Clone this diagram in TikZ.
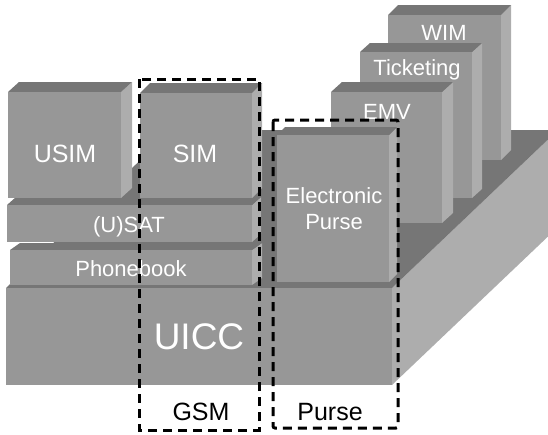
\documentclass[tikz,border=0pt]{standalone}
\usepackage{fontspec}
\setmainfont{Liberation Sans}
\definecolor{facefront}{HTML}{979797}
\definecolor{facetop}{HTML}{767676}
\definecolor{faceside}{HTML}{ADADAD}
% A box seen obliquely: front rectangle (x1,y1)-(x2,y2), receding by (dx,dy)
\newcommand{\drawslab}[6]{%
  \fill[faceside] (#3,#2) -- (#3+#5,#2-#6) -- (#3+#5,#4-#6) -- (#3,#4) -- cycle;
  \fill[facetop] (#1,#2) -- (#1+#5,#2-#6) -- (#3+#5,#2-#6) -- (#3,#2) -- cycle;
  \fill[facefront] (#1,#2) rectangle (#3,#4);
}
\tikzset{
  boxlabel/.style={anchor=base, text=white, inner sep=0pt, font=\fontsize{22}{26}\selectfont},
  biglabel/.style={boxlabel, font=\fontsize{25}{30}\selectfont},
  grouplabel/.style={anchor=base, text=black, inner sep=0pt, font=\fontsize{25}{30}\selectfont},
  groupframe/.style={draw=black, line width=3pt, dash pattern=on 9pt off 6pt}
}
\begin{document}
\begin{tikzpicture}[x=1pt, y=-1pt]
\useasboundingbox (0,0) rectangle (548,434);
\clip (0,0) rectangle (548,434);

% card platform
\drawslab{6}{288}{392}{385}{166}{158}
% applications standing on the platform, back to front
\drawslab{388}{15}{501}{160}{10}{10}
\drawslab{360}{52}{472}{198}{10}{9}
\drawslab{331}{92}{442}{223}{11}{10}
% telecom stack
\drawslab{10}{250}{252}{285}{10}{7}
\drawslab{7}{205}{252}{242}{9}{8}
\drawslab{8}{92}{121}{198}{11}{10}
\drawslab{140}{93}{252}{198}{10}{10}
% payment application
\drawslab{277}{135}{389}{282}{8}{8}

% labels
\node[boxlabel] (wim) at (444,40) {WIM};
\node[boxlabel] (ticketing) at (417,75) {Ticketing};
\node[boxlabel] (emv) at (387,119) {EMV};
\node[biglabel] (usim) at (65,162) {USIM};
\node[biglabel] (sim) at (195,162) {SIM};
\node[boxlabel] (usat) at (129,232) {(U)SAT};
\node[boxlabel] (phonebook) at (131,276) {Phonebook};
\node[boxlabel] (epurse1) at (334,203) {Electronic};
\node[boxlabel] (epurse2) at (334,229) {Purse};
\node[boxlabel, font=\fontsize{37}{44}\selectfont] (uicc) at (199,349) {UICC};

% grouping frames
\draw[groupframe] (139,79) rectangle (259,430);
\draw[groupframe, rounded corners=2pt] (273,120) rectangle (398,428);
\node[grouplabel] (gsm) at (201,420) {GSM};
\node[grouplabel] (purse) at (330,420) {Purse};
\end{tikzpicture}
\end{document}
